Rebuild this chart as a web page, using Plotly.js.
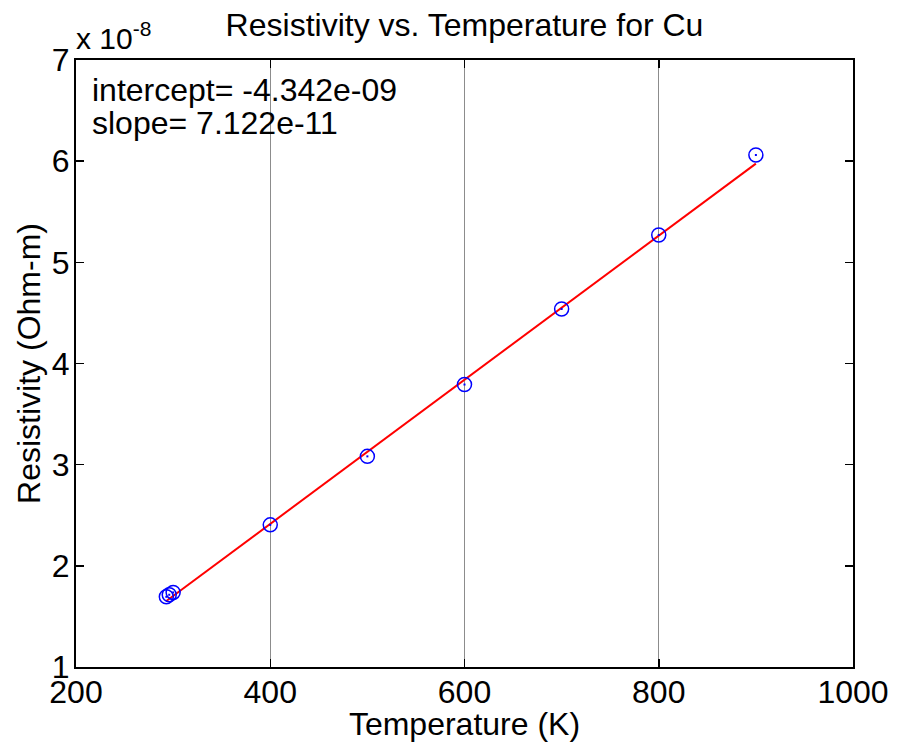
<!DOCTYPE html>
<html>
<head>
<meta charset="utf-8">
<script src="https://cdn.plot.ly/plotly-3.0.1.min.js"></script>
<style>
  html, body { margin: 0; padding: 0; background: #ffffff; }
  #chart { width: 897px; height: 742px; }
</style>
</head>
<body>
<div id="chart"></div>
<script>
// Temperature (K)
const temperature = [293, 296, 300, 400, 500, 600, 700, 800, 900];
// Resistivity in units of 1e-8 Ohm-m
const resistivity = [1.694, 1.714, 1.737, 2.405, 3.082, 3.792, 4.539, 5.270, 6.061];
// Fit values stated on the chart
const intercept = -4.342e-09;
const slope = 7.122e-11;
const yScale = 1e-8;
const fitT = [293, 900];
const yTickVals = [1, 2, 3, 4, 5, 6, 7];
const xTickVals = [200, 400, 600, 800, 1000];

const fitRho = fitT.map(t => (intercept + slope * t) / yScale);

const FONT = 'Liberation Sans, Arial, Helvetica, sans-serif';

const traces = [
  {
    x: fitT, y: fitRho, mode: 'lines', type: 'scatter',
    line: { color: '#ff0000', width: 2 }, hoverinfo: 'skip', showlegend: false
  },
  {
    x: temperature, y: resistivity, mode: 'markers', type: 'scatter',
    marker: { symbol: 'circle-open', size: 14, color: '#0000ff', line: { color: '#0000ff', width: 1.5 } },
    showlegend: false
  },
  {
    x: temperature, y: resistivity, mode: 'markers', type: 'scatter',
    marker: { symbol: 'square', size: 2, color: '#0000ff', line: { width: 0 } },
    showlegend: false, hoverinfo: 'skip'
  }
];

const layout = {
  width: 897, height: 742,
  margin: { l: 76, r: 44, t: 60, b: 75 },
  paper_bgcolor: '#ffffff', plot_bgcolor: '#ffffff',
  font: { family: FONT, size: 32, color: '#000000' },
  showlegend: false,
  title: {
    text: 'Resistivity vs. Temperature for Cu',
    font: { family: FONT, size: 32, color: '#000000' },
    x: 0.5, xref: 'paper', xanchor: 'center',
    y: 0.966, yref: 'container', yanchor: 'middle'
  },
  xaxis: {
    range: [200, 1000],
    tickvals: xTickVals,
    ticktext: xTickVals.map(String),
    ticks: 'inside', ticklen: 8, tickwidth: 1.5, tickcolor: '#000000',
    showline: true, linecolor: '#000000', linewidth: 2, mirror: 'ticks',
    showgrid: true, gridcolor: '#8c8c8c', gridwidth: 1,
    zeroline: false,
    tickfont: { family: FONT, size: 32, color: '#000000' },
    ticklabelstandoff: -4,
    title: { text: 'Temperature (K)', font: { family: FONT, size: 32, color: '#000000' }, standoff: 0 },
    automargin: false
  },
  yaxis: {
    range: [1, 7],
    tickvals: yTickVals,
    ticktext: yTickVals.map(String),
    ticks: 'inside', ticklen: 8, tickwidth: 1.5, tickcolor: '#000000',
    showline: true, linecolor: '#000000', linewidth: 2, mirror: 'ticks',
    showgrid: false,
    zeroline: false,
    tickfont: { family: FONT, size: 32, color: '#000000' },
    ticklabelstandoff: -2,
    title: { text: 'Resistivity (Ohm-m)', font: { family: FONT, size: 32, color: '#000000' }, standoff: 2 },
    automargin: false
  },
  annotations: [
    {
      text: 'x 10<sup>-8</sup>', xref: 'paper', yref: 'paper',
      x: -0.003, y: 1.005, xanchor: 'left', yanchor: 'bottom',
      showarrow: false, font: { family: FONT, size: 30, color: '#000000' }
    },
    {
      text: 'intercept= ' + intercept.toExponential(3).replace('e-9', 'e-09'),
      xref: 'paper', yref: 'paper', x: 0.018, y: 0.951, xanchor: 'left', yanchor: 'middle',
      showarrow: false, font: { family: FONT, size: 32, color: '#000000' }
    },
    {
      text: 'slope= ' + slope.toExponential(3),
      xref: 'paper', yref: 'paper', x: 0.018, y: 0.896, xanchor: 'left', yanchor: 'middle',
      showarrow: false, font: { family: FONT, size: 32, color: '#000000' }
    }
  ]
};

Plotly.newPlot('chart', traces, layout, { displayModeBar: false, staticPlot: true });
</script>
</body>
</html>
